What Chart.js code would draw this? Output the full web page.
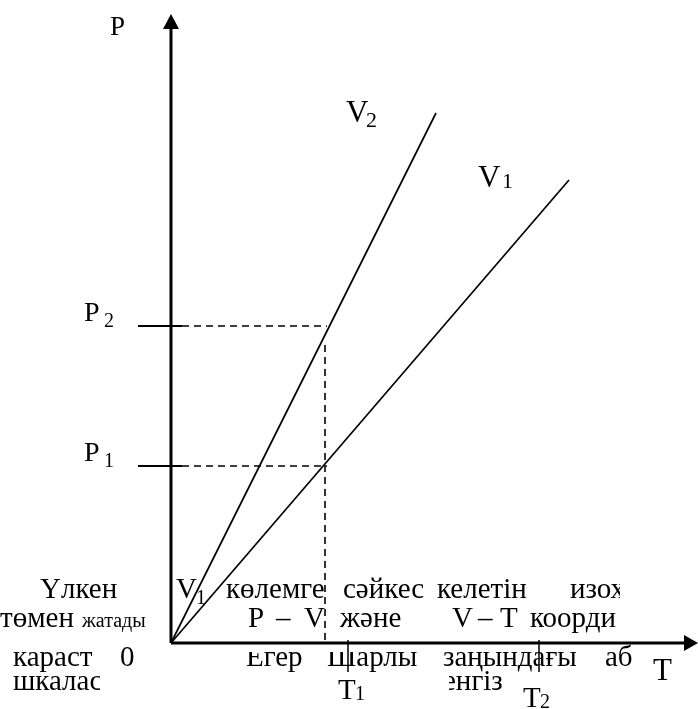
<!DOCTYPE html>
<html>
<head>
<meta charset="utf-8">
<script src="https://cdn.jsdelivr.net/npm/chart.js@4.4.0/dist/chart.umd.min.js"></script>
<style>
  html, body { margin: 0; padding: 0; background: #fff; }
</style>
</head>
<body>
<canvas id="chart" width="698" height="709"></canvas>
<script>
  /*
    ==================== DATA ====================
    units, origin at the axes crossing
  */
  let axisT = [0, 527];
  let axisP = [0, 629];
  let isoV2 = [[0, 0], [265, 530]];
  let isoV1 = [[0, 0], [398, 463]];
  let levelsP = [317, 177];      // P2, P1
  let levelLabels = ['2', '1'];
  let dashT = 154;               // dashed vertical under the V2 / P2 crossing
  let ticksT = [177, 368];       // T1, T2
  let tickLabels = ['1', '2'];

  /*
    ==================== HELPERS ====================
  */
  let serif = size => `${size}px "Liberation Serif", "Times New Roman", serif`;
  let pts = arr => arr.map(([x, y]) => ({ x, y }));

  function lineSet(data, width, dash) {
    return {
      data, showLine: true, pointRadius: 0, borderColor: '#000',
      borderWidth: width, borderDash: dash || [], clip: false, tension: 0
    };
  }

  let datasets = [
    lineSet(pts([[axisT[0], 0], [axisT[1] - 14, 0]]), 3),
    lineSet(pts([[0, axisP[0]], [0, axisP[1] - 14]]), 3),
    lineSet(pts(isoV2), 1.7),
    lineSet(pts(isoV1), 1.7)
  ];

  levelsP.forEach(p => {
    datasets.push(lineSet(pts([[-33, p], [11, p]]), 1.8));
    datasets.push(lineSet(pts([[11, p], [dashT + 2, p]]), 1.6, [7, 5]));
  });
  datasets.push(lineSet(pts([[dashT, levelsP[0] - 19], [dashT, 0]]), 1.6, [7, 5]));
  ticksT.forEach(t => datasets.push(lineSet(pts([[t, 3], [t, -29]]), 1.5)));

  /*
    ==================== TEXT ====================
  */
  let textLines = [
    { y: 598, left: 0, clip: 620, words: [['Үлкен', 40], ['V', 176], ['көлемге', 226], ['сәйкес', 343], ['келетін', 437], ['изох', 570]], subs: [['1', 196, 604]] },
    { y: 627, left: 0, clip: 620, words: [['төмен', 0], ['P', 248], ['–', 276], ['V', 304], ['және', 340], ['V', 452], ['–', 478], ['T', 500], ['коорди', 530]], small: [['жатады', 82]] },
    { y: 666, left: 0, clip: 632, words: [['караст', 13], ['0', 120], ['Егер', 246], ['Шарлы', 327], ['заңындағы', 443], ['аб', 605]] },
    { y: 690, left: 0, clip: 100, words: [['шкаласы', 13]] },
    { y: 690, left: 449, clip: 502, words: [['енгізу', 443]] }
  ];

  let textPlugin = {
    id: 'textPlugin',
    beforeDatasetsDraw(chart) {
      let ctx = chart.ctx;
      ctx.save();
      ctx.fillStyle = '#000';
      ctx.textBaseline = 'alphabetic';
      textLines.forEach(line => {
        ctx.save();
        ctx.beginPath();
        ctx.rect(line.left, 0, line.clip - line.left, 709);
        ctx.clip();
        ctx.font = serif(29);
        line.words.forEach(([s, x]) => ctx.fillText(s, x, line.y));
        ctx.font = serif(20);
        (line.small || []).forEach(([s, x]) => ctx.fillText(s, x, line.y));
        (line.subs || []).forEach(([s, x, y]) => ctx.fillText(s, x, y));
        ctx.restore();
      });
      // the top of "Егер Шарлы" is hidden by a blank box
      ctx.fillStyle = '#fff';
      ctx.fillRect(172, 644, 290, 8);
      ctx.restore();
    },
    afterDatasetsDraw(chart) {
      let ctx = chart.ctx;
      let xs = chart.scales.x, ys = chart.scales.y;
      let x0 = xs.getPixelForValue(0), y0 = ys.getPixelForValue(0);
      let xt = xs.getPixelForValue(axisT[1]), yt = ys.getPixelForValue(axisP[1]);
      ctx.save();
      ctx.fillStyle = '#000';
      ctx.beginPath();
      ctx.moveTo(xt, y0); ctx.lineTo(xt - 14, y0 - 8); ctx.lineTo(xt - 14, y0 + 8); ctx.closePath();
      ctx.fill();
      ctx.beginPath();
      ctx.moveTo(x0, yt); ctx.lineTo(x0 - 8, yt + 15); ctx.lineTo(x0 + 8, yt + 15); ctx.closePath();
      ctx.fill();

      // axis and line labels
      ctx.font = serif(27);
      ctx.fillText('P', 110, 35);
      ctx.font = serif(31);
      ctx.fillText('T', 653, 680);
      ctx.fillText('V', 346, 122);
      ctx.fillText('V', 478, 187);
      ctx.font = serif(22);
      ctx.fillText('2', 366, 127);
      ctx.fillText('1', 502, 188);

      levelsP.forEach((p, i) => {
        let y = ys.getPixelForValue(p);
        ctx.font = serif(28);
        ctx.fillText('P', 84, y - 5);
        ctx.font = serif(20);
        ctx.fillText(levelLabels[i], 104, y + 1);
      });
      ticksT.forEach((t, i) => {
        let x = xs.getPixelForValue(t);
        let dx = i ? -16 : -10;
        let base = i ? 707 : 699;
        ctx.font = serif(29);
        ctx.fillText('T', x + dx, base);
        ctx.font = serif(20);
        ctx.fillText(tickLabels[i], x + dx + 17, base + 1);
      });
      ctx.restore();
    }
  };

  /*
    ==================== CHART ====================
  */
  new Chart(document.getElementById('chart').getContext('2d'), {
    type: 'scatter',
    data: { datasets },
    options: {
      responsive: false,
      animation: false,
      devicePixelRatio: 1,
      layout: { padding: { left: 171, right: 0, top: 14, bottom: 66 } },
      scales: {
        x: { type: 'linear', min: axisT[0], max: axisT[1], display: false },
        y: { type: 'linear', min: axisP[0], max: axisP[1], display: false }
      },
      plugins: { legend: { display: false }, tooltip: { enabled: false } }
    },
    plugins: [textPlugin]
  });
</script>
</body>
</html>
